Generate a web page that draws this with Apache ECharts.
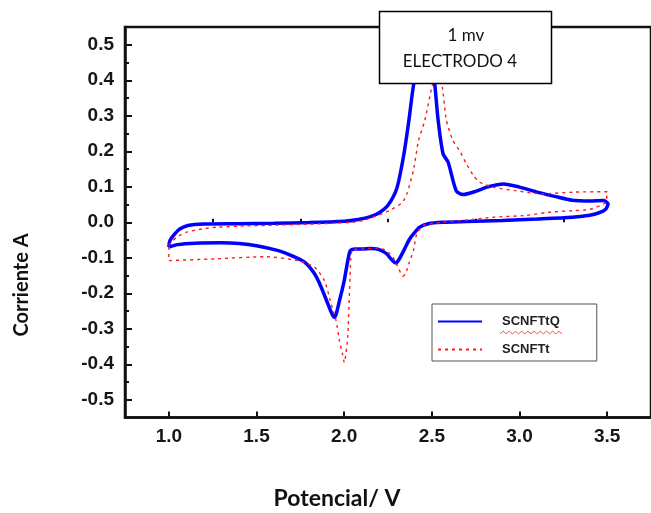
<!DOCTYPE html>
<html>
<head>
<meta charset="utf-8">
<script src="https://cdn.jsdelivr.net/npm/echarts@6/dist/echarts.min.js"></script>
<style>
  html, body { margin: 0; padding: 0; background: #fff; }
  #chart { width: 651px; height: 513px; }
</style>
</head>
<body>
<div id="chart"></div>
<script>
// Cyclic voltammogram, electrode 4, 1 mV/s sweep.
// SCNFTtQ: anodic sweep (1.0 -> 3.5 V) and cathodic return (3.5 -> 1.0 V)
const scnftqAnodic = [
  [1.000,-0.070],[1.006,-0.052],[1.034,-0.033],[1.062,-0.019],[1.109,-0.009],[1.20,-0.005],
  [1.40,-0.004],[1.60,-0.003],[1.80,-0.001],[2.00,0.003],[2.08,0.008],[2.15,0.016],
  [2.20,0.027],[2.25,0.048],[2.30,0.095],[2.34,0.190],[2.37,0.290],[2.40,0.400],
  [2.44,0.470],[2.48,0.490],[2.51,0.420],[2.536,0.287],[2.564,0.193],[2.593,0.169],
  [2.639,0.089],[2.677,0.078],[2.75,0.087],[2.82,0.100],[2.91,0.108],[3.00,0.099],
  [3.10,0.085],[3.20,0.073],[3.30,0.062],[3.40,0.060],[3.48,0.061],[3.505,0.052]
];
const scnftqCathodic = [
  [3.49,0.036],[3.45,0.026],[3.40,0.020],[3.30,0.014],[3.10,0.009],[2.90,0.005],
  [2.70,0.002],[2.56,0.000],[2.48,-0.004],[2.43,-0.014],[2.40,-0.030],[2.37,-0.050],
  [2.34,-0.080],[2.31,-0.107],[2.295,-0.115],[2.27,-0.105],[2.24,-0.088],[2.20,-0.077],
  [2.15,-0.074],[2.10,-0.075],[2.06,-0.075],[2.035,-0.080],[2.02,-0.110],[2.00,-0.165],
  [1.973,-0.221],[1.945,-0.268],[1.93,-0.258],[1.907,-0.230],[1.869,-0.183],[1.832,-0.146],
  [1.776,-0.113],[1.70,-0.094],[1.625,-0.080],[1.50,-0.066],[1.40,-0.060],[1.30,-0.058],
  [1.15,-0.059],[1.05,-0.063],[1.00,-0.070]
];
// SCNFTt
const scnftAnodic = [
  [1.000,-0.065],[1.015,-0.056],[1.05,-0.040],[1.10,-0.028],[1.20,-0.018],[1.27,-0.014],
  [1.40,-0.011],[1.55,-0.009],[1.75,-0.006],[1.93,-0.003],[2.05,0.000],[2.11,0.005],
  [2.19,0.019],[2.26,0.033],[2.33,0.055],[2.358,0.080],[2.395,0.146],[2.424,0.230],
  [2.46,0.287],[2.50,0.380],[2.535,0.430],[2.56,0.380],[2.583,0.287],[2.62,0.230],
  [2.66,0.200],[2.696,0.165],[2.74,0.130],[2.771,0.113],[2.846,0.099],[2.977,0.089],
  [3.128,0.080],[3.315,0.085],[3.50,0.086]
];
const scnftCathodic = [
  [3.49,0.055],[3.40,0.036],[3.315,0.033],[3.163,0.028],[3.034,0.019],[2.846,0.014],
  [2.70,0.006],[2.564,0.000],[2.452,-0.009],[2.414,-0.033],[2.395,-0.080],[2.37,-0.115],
  [2.35,-0.145],[2.335,-0.152],[2.31,-0.130],[2.28,-0.100],[2.24,-0.080],[2.20,-0.072],
  [2.12,-0.075],[2.06,-0.076],[2.048,-0.075],[2.038,-0.100],[2.02,-0.324],[2.001,-0.395],
  [1.99,-0.370],[1.973,-0.334],[1.954,-0.277],[1.926,-0.230],[1.887,-0.164],[1.832,-0.127],
  [1.738,-0.108],[1.55,-0.097],[1.269,-0.103],[1.00,-0.108],[1.00,-0.065]
];

const seriesNames = ['SCNFTtQ', 'SCNFTt'];
const xMajorTicks = [1.0, 1.5, 2.0, 2.5, 3.0, 3.5];
const xMinorTicks = [1.25, 1.75, 2.25, 2.75, 3.25];
const yMajorTicks = [-0.5, -0.4, -0.3, -0.2, -0.1, 0.0, 0.1, 0.2, 0.3, 0.4, 0.5];
const yMinorTicks = [-0.45, -0.35, -0.25, -0.15, -0.05, 0.05, 0.15, 0.25, 0.35, 0.45];
const xTitle = 'Potencial/ V';
const yTitle = 'Corriente A';
const noteLines = ['1 mv', 'ELECTRODO 4'];

const AXIS_COLOR = '#111';
const labelFont = { fontFamily: 'Liberation Sans', fontWeight: 'bold', fontSize: 19, color: '#161616' };

const chart = echarts.init(document.getElementById('chart'), null, { renderer: 'canvas' });

// wavy underline under the first legend entry
const wave = [];
for (let i = 0; i <= 20; i++) wave.push([500 + i * 3.1, 332.5 + (i % 2 ? -1.3 : 1.3)]);

chart.setOption({
  animation: false,
  backgroundColor: '#fff',
  grid: {
    left: 125, top: 27, right: -6, bottom: 95.5,
    show: true, borderColor: AXIS_COLOR, borderWidth: 2.5, backgroundColor: 'transparent'
  },
  legend: {
    data: seriesNames,
    orient: 'vertical',
    left: 432, top: 304,
    padding: [11, 37, 5, 5],
    itemGap: 15,
    itemWidth: 44, itemHeight: 14,
    itemStyle: { opacity: 0 },
    borderColor: '#555', borderWidth: 1,
    textStyle: { fontFamily: 'Liberation Sans', fontWeight: 'bold', fontSize: 13, color: '#222', padding: [0, 0, 0, 15] }
  },
  xAxis: [{
    type: 'value', min: 0.75, max: 3.75,
    axisLine: { show: true, onZero: false, lineStyle: { color: AXIS_COLOR, width: 2.5 } },
    axisTick: { show: true, inside: true, length: 6, customValues: xMajorTicks, lineStyle: { color: AXIS_COLOR, width: 2 } },
    axisLabel: { customValues: xMajorTicks, margin: 10, formatter: v => v.toFixed(1), ...labelFont },
    splitLine: { show: false }
  }, {
    type: 'value', min: 0.75, max: 3.75, position: 'bottom', gridIndex: 0,
    axisLine: { show: false },
    axisTick: { show: true, inside: true, length: 3.5, customValues: xMinorTicks, lineStyle: { color: AXIS_COLOR, width: 2 } },
    axisLabel: { show: false },
    splitLine: { show: false }
  }],
  yAxis: [{
    type: 'value', min: -0.55, max: 0.55,
    axisLine: { show: true, onZero: false, lineStyle: { color: AXIS_COLOR, width: 2.5 } },
    axisTick: { show: true, inside: true, length: 7, customValues: yMajorTicks, lineStyle: { color: AXIS_COLOR, width: 2 } },
    axisLabel: { customValues: yMajorTicks, margin: 11, formatter: v => v.toFixed(1), ...labelFont },
    splitLine: { show: false }
  }, {
    type: 'value', min: -0.55, max: 0.55, position: 'left', gridIndex: 0,
    axisLine: { show: false },
    axisTick: { show: true, inside: true, length: 4, customValues: yMinorTicks, lineStyle: { color: AXIS_COLOR, width: 2 } },
    axisLabel: { show: false },
    splitLine: { show: false }
  }],
  series: [{
    name: seriesNames[0], type: 'line', xAxisIndex: 0, yAxisIndex: 0,
    data: scnftqAnodic.concat(scnftqCathodic),
    symbol: 'none', smooth: 0.25,
    lineStyle: { color: '#0000ff', width: 3.5 },
    itemStyle: { color: '#0000ff' }
  }, {
    name: seriesNames[1], type: 'line', xAxisIndex: 0, yAxisIndex: 0,
    data: scnftAnodic.concat(scnftCathodic),
    symbol: 'none', smooth: 0.2,
    lineStyle: { color: '#ff1a1a', width: 1.4, type: [3, 4] },
    itemStyle: { color: '#ff1a1a' }
  }],
  graphic: [
    {
      type: 'rect', z: 100,
      shape: { x: 379.5, y: 11.5, width: 172, height: 72 },
      style: { fill: '#fff', stroke: '#000', lineWidth: 1.5 }
    },
    {
      type: 'text', z: 101, x: 466, y: 36,
      style: { text: noteLines[0], font: '17px Lato', fill: '#111', align: 'center', verticalAlign: 'middle' }
    },
    {
      type: 'text', z: 101, x: 460, y: 62,
      style: { text: noteLines[1], font: '17px Lato', fill: '#111', align: 'center', verticalAlign: 'middle' }
    },
    {
      type: 'text', z: 101, x: 337, y: 499,
      style: { text: xTitle, font: 'bold 23px Lato', fill: '#111', align: 'center', verticalAlign: 'middle' }
    },
    {
      type: 'text', z: 101, x: 22, y: 285, rotation: Math.PI / 2,
      style: { text: yTitle, font: 'bold 20px Lato', fill: '#111', align: 'center', verticalAlign: 'middle' }
    },
    {
      type: 'polyline', z: 101,
      shape: { points: wave },
      style: { stroke: '#e03030', lineWidth: 0.8, fill: null }
    }
  ]
});
</script>
</body>
</html>
